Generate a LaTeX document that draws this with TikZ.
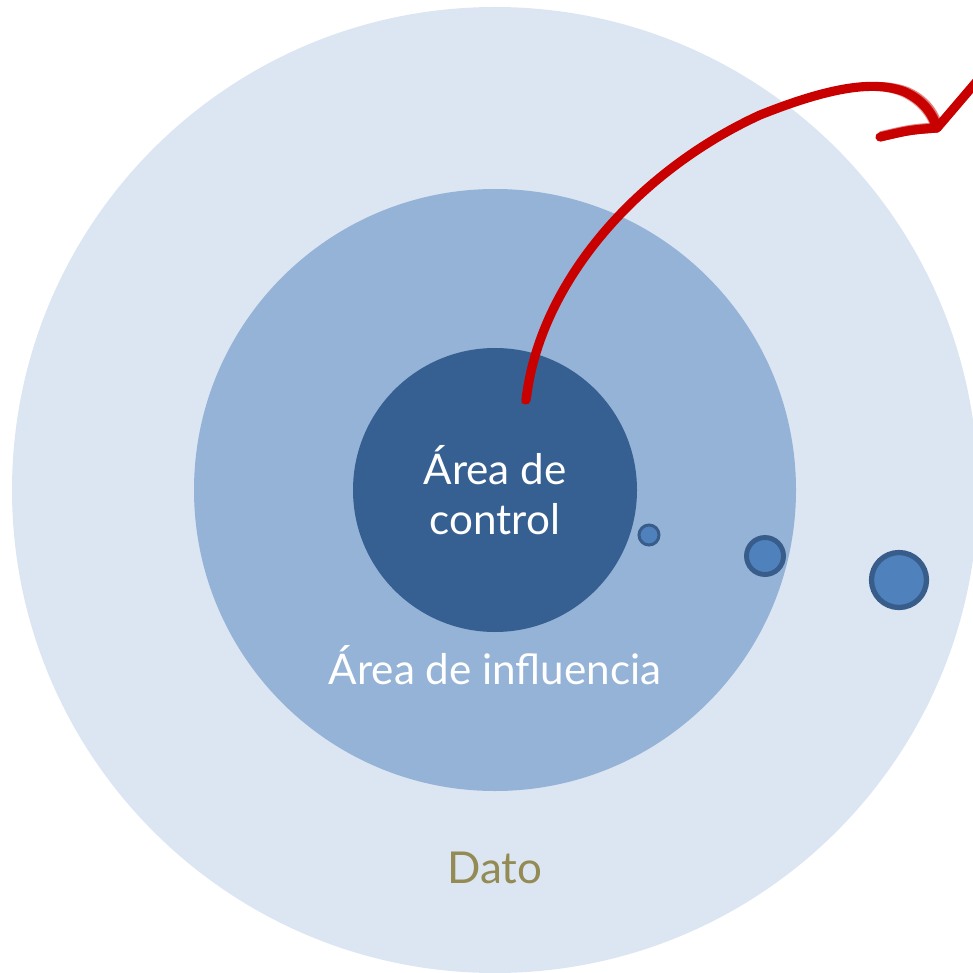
\documentclass[tikz,border=0pt]{standalone}
\usepackage{fontspec}
\setmainfont{Lato}
\usetikzlibrary{calc}
\definecolor{datofill}{HTML}{DCE6F2}
\definecolor{inflfill}{HTML}{95B3D7}
\definecolor{ctrlfill}{HTML}{376092}
\definecolor{dotfill}{HTML}{4F81BD}
\definecolor{dotline}{HTML}{385D8A}
\definecolor{datotext}{HTML}{948A54}
\definecolor{brush}{HTML}{C80000}

\begin{document}
\begin{tikzpicture}[x=1cm,y=1cm,
                      area/.style={circle,draw=none,inner sep=0pt},
                      dot/.style={circle,fill=dotfill,draw=dotline,inner sep=0pt},
                      label/.style={text=white,align=center,font=\fontsize{12}{14.2}\selectfont}]

   \useasboundingbox (0,0) rectangle (9.73,-9.73);
   \clip (0,0) rectangle (9.73,-9.73);

   \coordinate (centre) at (4.95,-4.90);
   \node(dato)[area,fill=datofill,minimum size=9.66cm] at (centre) {};
   \node(infl)[area,fill=inflfill,minimum size=6.02cm] at (centre) {};
   \node(ctrl)[area,fill=ctrlfill,minimum size=2.84cm] at (centre) {};

   \node(dotA)[dot,line width=0.85pt,minimum size=0.20cm] at (6.49,-5.35) {};
   \node(dotB)[dot,line width=1.4pt,minimum size=0.37cm] at (7.65,-5.56) {};
   \node(dotC)[dot,line width=1.5pt,minimum size=0.55cm] at (8.99,-5.80) {};

   \node(ctrltext)[label] at (4.95,-4.90) {Área de\\control};
   \node(infltext)[label] at (4.95,-6.65) {Área de influencia};
   \node(datotext)[text=datotext,font=\fontsize{12.5}{14}\selectfont] at (4.95,-8.68) {Dato};

   % brush arrow out of the control area
   \coordinate (from) at (5.26,-4.00);
   \coordinate (tip) at (9.37,-1.28);
   \foreach \dx/\dy/\w/\o in {0/0/2.6/1, 0.025/0.02/1.0/0.75, -0.025/-0.02/1.0/0.75, 0.045/0.035/0.5/0.5, -0.04/-0.035/0.4/0.4}{
     \draw[brush,line width=\w pt,opacity=\o,line cap=round,line join=round]
       ($(from)+(\dx,\dy)$) .. controls ($(5.40,-2.80)+(\dx,\dy)$) and ($(6.40,-1.70)+(\dx,\dy)$) .. ($(7.60,-1.15)+(\dx,\dy)$)
       .. controls ($(8.30,-0.87)+(\dx,\dy)$) and ($(8.75,-0.80)+(\dx,\dy)$) .. ($(9.05,-0.92)+(\dx,\dy)$)
       .. controls ($(9.22,-1.00)+(\dx,\dy)$) and ($(9.32,-1.12)+(\dx,\dy)$) .. ($(tip)+(\dx,\dy)$);
   }
   \foreach \dy/\w/\o in {0/2.6/1, 0.03/0.9/0.75, -0.03/0.9/0.75, 0.05/0.4/0.5}{
     \draw[brush,line width=\w pt,opacity=\o,line cap=round,line join=round]
       ($(8.80,-1.37)+(0,\dy)$) .. controls ($(9.10,-1.30)+(0,\dy)$) .. ($(tip)+(0,\dy)$) -- ($(9.78,-0.80)+(0,\dy)$);
   }
\end{tikzpicture}
\end{document}
